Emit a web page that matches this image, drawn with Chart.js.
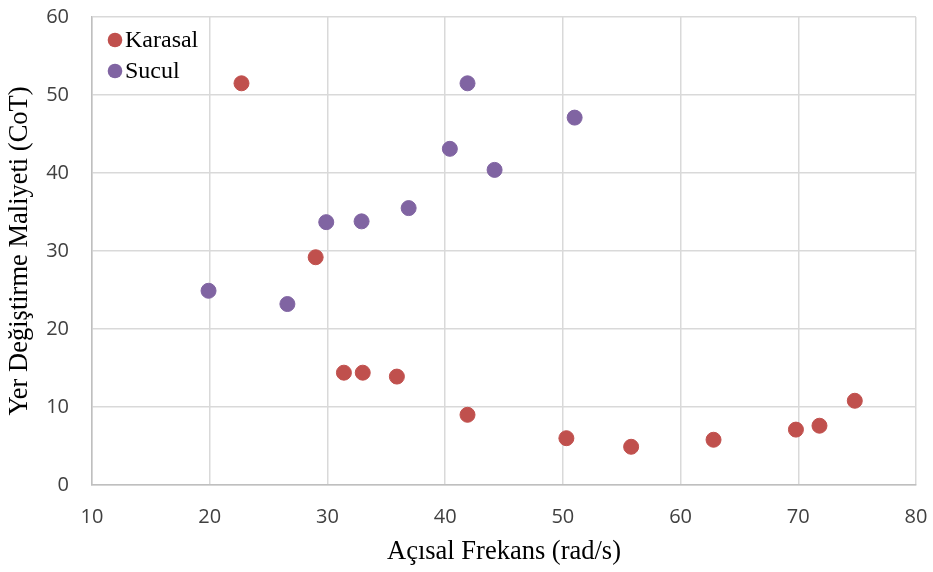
<!DOCTYPE html>
<html><head><meta charset="utf-8">
<script src="https://cdn.jsdelivr.net/npm/chart.js@4/dist/chart.umd.min.js"></script>
<style>html,body{margin:0;padding:0;background:#fff}#w{width:933px;height:572px}</style>
</head><body><div id="w"><canvas id="c"></canvas></div>
<script>
const seriesNames = ["Karasal", "Sucul"];
const karasalX = [22.7, 29.0, 31.4, 33.0, 35.9, 41.9, 50.3, 55.8, 62.8, 69.8, 71.8, 74.8];
const karasalY = [51.5, 29.2, 14.4, 14.4, 13.9, 9.0, 6.0, 4.9, 5.8, 7.1, 7.6, 10.8];
const suculX = [19.9, 26.6, 29.9, 32.9, 36.9, 40.4, 41.9, 44.2, 51.0];
const suculY = [24.9, 23.2, 33.7, 33.8, 35.5, 43.1, 51.5, 40.4, 47.1];
const xTitle = "Açısal Frekans (rad/s)";
const yTitle = "Yer Değiştirme Maliyeti (CoT)";
const colors = ["#C0504D", "#8064A2"];

const toPts = (xs, ys) => xs.map((x, i) => ({x, y: ys[i]}));

const legendPlugin = {
  id: 'inLegend',
  afterDraw(chart) {
    const ctx = chart.ctx, a = chart.chartArea;
    ctx.save();
    chart.data.datasets.forEach((ds, i) => {
      const cy = a.top + 23 + i * 31;
      ctx.beginPath();
      ctx.fillStyle = ds.backgroundColor;
      ctx.arc(a.left + 23, cy, 7.3, 0, Math.PI * 2);
      ctx.fill();
      ctx.fillStyle = '#000';
      ctx.font = '24px "Liberation Serif"';
      ctx.textBaseline = 'middle';
      ctx.fillText(ds.label, a.left + 33, cy + 1);
    });
    ctx.restore();
  }
};

const tickFont = {family: '"Open Sans", "DejaVu Sans", sans-serif', size: 20};
const titleFont = {family: '"Liberation Serif"', size: 26.5};

new Chart(document.getElementById('c'), {
  type: 'scatter',
  data: {
    datasets: [
      {label: seriesNames[0], data: toPts(karasalX, karasalY), backgroundColor: colors[0], borderColor: colors[0], pointRadius: 7.5, pointHoverRadius: 7.5},
      {label: seriesNames[1], data: toPts(suculX, suculY), backgroundColor: colors[1], borderColor: colors[1], pointRadius: 7.5, pointHoverRadius: 7.5}
    ]
  },
  options: {
    responsive: true, maintainAspectRatio: false, animation: false,
    layout: {padding: {top: 17, right: 17, left: 0, bottom: 0}},
    plugins: {legend: {display: false}, tooltip: {enabled: false}},
    scales: {
      x: {
        type: 'linear', min: 10, max: 80,
        ticks: {stepSize: 10, color: '#404040', font: tickFont, padding: 20},
        grid: {color: '#d9d9d9', lineWidth: 1.5, drawTicks: false},
        border: {color: '#bfbfbf', width: 1.5},
        title: {display: true, text: xTitle, color: '#000', font: titleFont, padding: {top: 5}},
        afterFit(s) { s.height = 87; s.paddingLeft = 0; s.paddingRight = 0; }
      },
      y: {
        type: 'linear', min: 0, max: 60,
        ticks: {stepSize: 10, color: '#404040', font: tickFont, padding: 23},
        grid: {color: '#d9d9d9', lineWidth: 1.5, drawTicks: false},
        border: {color: '#bfbfbf', width: 1.5},
        title: {display: true, text: yTitle, color: '#000', font: titleFont, padding: {bottom: 0}},
        afterFit(s) { s.width = 92; s.paddingTop = 0; s.paddingBottom = 0; }
      }
    }
  },
  plugins: [legendPlugin]
});
</script></body></html>
